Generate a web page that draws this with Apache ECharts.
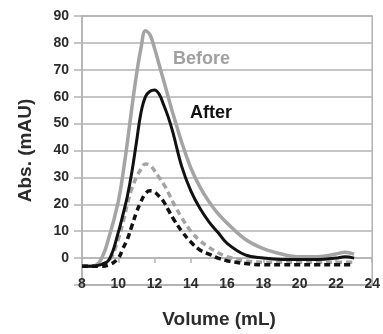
<!DOCTYPE html>
<html>
<head>
<meta charset="utf-8">
<script src="https://cdn.jsdelivr.net/npm/echarts@6/dist/echarts.min.js"></script>
<style>
  html, body { margin: 0; padding: 0; background: #fff; }
  #chart { width: 383px; height: 334px; }
</style>
</head>
<body>
<div id="chart"></div>
<script>
// elution volume (mL), shared by all traces
const volume = [8, 8.5, 9, 9.5, 10, 10.25, 10.5, 10.75, 11, 11.25, 11.5, 11.75, 12, 12.25, 12.5, 12.75, 13, 13.5, 14, 14.5, 15, 15.5, 16, 17, 18, 19, 20, 21, 22, 22.5, 23]

// absorbance (mAU)
const beforeSolid = [-3, -3, -1, 8, 21, 31, 43, 56, 68, 78, 84.5, 83, 78, 72, 66, 60, 54, 43, 33.5, 26.5, 21, 16.5, 13, 7, 3.5, 1.5, 0.5, 0.5, 1.5, 2.2, 1.5]
const afterSolid = [-3, -3, -2.5, -0.5, 9.5, 16, 23, 32, 43, 54, 60, 62, 62.5, 61, 57, 52.5, 47, 34, 25, 18.5, 13.5, 9.5, 5.5, 1.2, 0, -0.5, -0.5, -0.5, 0, 0.5, 0]
const beforeDashed = [-3, -3, -2.5, -1, 7, 13, 20, 26, 30, 33, 35, 34.5, 32.5, 30, 27.5, 24.5, 21, 15, 10, 6.5, 4, 2, 0.5, -1, -1.5, -1.5, -1.5, -1.5, -1.5, -1.5, -1.5]
const afterDashed = [-3, -3, -3, -2.5, 0, 3.5, 7, 12, 17, 21, 24, 25, 24.5, 23, 21, 18, 15, 10, 6, 3, 1.5, 0, -1, -2, -2.5, -2.5, -2.5, -2.5, -2.5, -2.5, -2.5]

const xTicks = [8, 24, 2]   // min, max, step
const yTicks = [-10, 90, 10]

const pairs = (ys) => volume.map((v, i) => [v, ys[i]])

const gray = '#a4a4a4'
const gridGray = '#b2b2b2'
const labelColor = '#2b2b2b'
const font = 'Liberation Sans, Arial, sans-serif'

const chart = echarts.init(document.getElementById('chart'))

const option = {
  animation: false,
  grid: {
    left: 82,
    right: 2,
    top: 16,
    bottom: 43,
    show: true,
    borderColor: gridGray,
    borderWidth: 1.5,
  },
  xAxis: [
    {
      // axis drawn through zero, carries the ticks
      type: 'value',
      min: xTicks[0],
      max: xTicks[1],
      interval: xTicks[2],
      axisLine: { onZero: true, lineStyle: { color: gridGray, width: 1.5 } },
      axisTick: { show: true, length: 5, lineStyle: { color: gridGray, width: 1.5 } },
      axisLabel: { show: false },
      splitLine: { show: false },
    },
    {
      // bottom axis, carries the labels and the title
      type: 'value',
      position: 'bottom',
      min: xTicks[0],
      max: xTicks[1],
      interval: xTicks[2],
      axisLine: { onZero: false, show: true, lineStyle: { color: gridGray, width: 1.5 } },
      axisTick: { show: false },
      axisLabel: {
        margin: -8,
        color: labelColor,
        fontSize: 14,
        fontWeight: 'bold',
        fontFamily: font,
      },
      splitLine: { show: false },
      name: 'Volume (mL)',
      nameLocation: 'middle',
      nameGap: 25,
      nameTextStyle: {
        color: labelColor,
        fontSize: 19,
        fontWeight: 'bold',
        fontFamily: font,
        padding: [0, 16, 0, 0],
      },
    },
  ],
  yAxis: {
    type: 'value',
    min: yTicks[0],
    max: yTicks[1],
    interval: yTicks[2],
    axisLine: { show: true, lineStyle: { color: gridGray, width: 1.5 } },
    axisTick: { show: true, length: 8, lineStyle: { color: gridGray, width: 1.5 } },
    axisLabel: {
      margin: 13,
      color: labelColor,
      fontSize: 14,
      fontWeight: 'bold',
      fontFamily: font,
      formatter: (v) => (v < 0 ? '' : String(v)),
    },
    splitLine: { show: true, lineStyle: { color: gridGray, width: 1.5 } },
    name: 'Abs. (mAU)',
    nameLocation: 'middle',
    nameGap: 47,
    nameTextStyle: {
      color: labelColor,
      fontSize: 19,
      fontWeight: 'bold',
      fontFamily: font,
    },
  },
  series: [
    {
      name: 'Before',
      type: 'line',
      smooth: 0.4,
      showSymbol: false,
      data: pairs(beforeSolid),
      lineStyle: { color: gray, width: 3.5 },
    },
    {
      name: 'Before (dashed)',
      type: 'line',
      smooth: 0.4,
      showSymbol: false,
      data: pairs(beforeDashed),
      lineStyle: { color: gray, width: 3.5, type: [6, 4] },
    },
    {
      name: 'After',
      type: 'line',
      smooth: 0.4,
      showSymbol: false,
      data: pairs(afterSolid),
      lineStyle: { color: '#111', width: 3 },
    },
    {
      name: 'After (dashed)',
      type: 'line',
      smooth: 0.4,
      showSymbol: false,
      data: pairs(afterDashed),
      lineStyle: { color: '#111', width: 3.5, type: [6, 4] },
    },
  ],
  graphic: [
    {
      type: 'text',
      left: 173,
      top: 50,
      style: { text: 'Before', fill: '#a0a0a0', font: 'bold 18px ' + font },
    },
    {
      type: 'text',
      left: 190,
      top: 104,
      style: { text: 'After', fill: '#111', font: 'bold 18px ' + font },
    },
  ],
}

chart.setOption(option)
</script>
</body>
</html>
